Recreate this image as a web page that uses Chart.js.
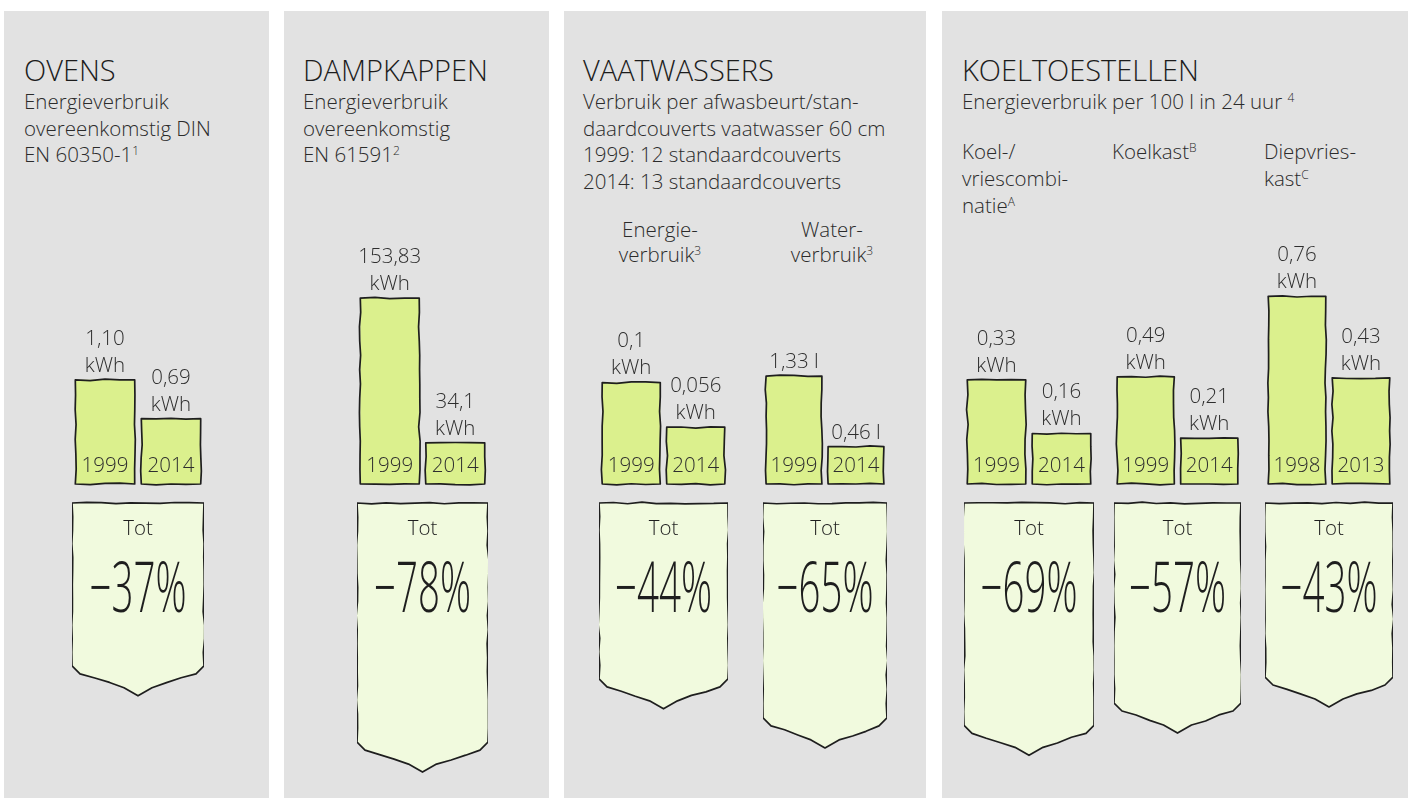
<!DOCTYPE html>
<html lang="nl">
<head>
<meta charset="UTF-8">
<title>Energieverbruik huishoudtoestellen</title>
<script src="https://cdn.jsdelivr.net/npm/chart.js"></script>
<style>
  body { margin: 0; background: #fff; font-family: 'Open Sans', sans-serif; font-weight: 300; color: #2b2b2b; }
  #page { position: relative; width: 1408px; height: 798px; overflow: hidden; }
  .panel { position: absolute; top: 11px; bottom: 0; background: #e2e2e2; }
  .title { position: absolute; top: 55px; font-size: 29px; line-height: 30px; color: #1c1c1c; white-space: nowrap; }
  .sub { position: absolute; top: 88px; font-size: 20.5px; line-height: 26.7px; white-space: nowrap; }
  .head { position: absolute; font-size: 20.5px; white-space: nowrap; }
  sup { font-size: 12px; line-height: 0; vertical-align: 0; position: relative; top: -7px; }
  canvas { position: absolute; }
</style>
</head>
<body>
<div id="page">
  <div class="panel" style="left:4px; width:265px"></div>
  <div class="panel" style="left:284px; width:265px"></div>
  <div class="panel" style="left:564px; width:362px"></div>
  <div class="panel" style="left:942px; width:466px"></div>

  <div class="title" style="left:24px">OVENS</div>
  <div class="sub" style="left:24px">Energieverbruik<br>overeenkomstig DIN<br>EN 60350-1<sup>1</sup></div>

  <div class="title" style="left:303px">DAMPKAPPEN</div>
  <div class="sub" style="left:303px">Energieverbruik<br>overeenkomstig<br>EN 61591<sup>2</sup></div>

  <div class="title" style="left:583px">VAATWASSERS</div>
  <div class="sub" style="left:583px">Verbruik per afwasbeurt/stan-<br>daardcouverts vaatwasser 60 cm<br>1999: 12 standaardcouverts<br>2014: 13 standaardcouverts</div>
  <div class="head" style="left:600px; width:120px; top:217px; line-height:25px; text-align:center">Energie-<br>verbruik<sup>3</sup></div>
  <div class="head" style="left:772px; width:120px; top:217px; line-height:25px; text-align:center">Water-<br>verbruik<sup>3</sup></div>

  <div class="title" style="left:962px">KOELTOESTELLEN</div>
  <div class="sub" style="left:962px">Energieverbruik per 100 l in 24 uur <sup>4</sup></div>
  <div class="head" style="left:962px; top:138px; line-height:27px">Koel-/<br>vriescombi-<br>natie<sup>A</sup></div>
  <div class="head" style="left:1112px; top:138px; line-height:27px">Koelkast<sup>B</sup></div>
  <div class="head" style="left:1264px; top:138px; line-height:27px">Diepvries-<br>kast<sup>C</sup></div>
</div>

<script>
// values per pair of bars
const pairs = ['Ovens', 'Dampkappen', 'Vaatwasser energie', 'Vaatwasser water', 'Koel-/vriescombinatie', 'Koelkast', 'Diepvrieskast'];
const yearsBefore = ['1999', '1999', '1999', '1999', '1999', '1999', '1998'];
const yearsAfter = ['2014', '2014', '2014', '2014', '2014', '2014', '2013'];
const valuesBefore = [1.10, 153.83, 0.1, 1.33, 0.33, 0.49, 0.76];
const valuesAfter = [0.69, 34.1, 0.056, 0.46, 0.16, 0.21, 0.43];
const decimalsBefore = [2, 2, 1, 2, 2, 2, 2];
const decimalsAfter = [2, 1, 3, 2, 2, 2, 2];
const units = ['kWh', 'kWh', 'kWh', 'l', 'kWh', 'kWh', 'kWh'];
const totalChange = [-37, -78, -44, -65, -69, -57, -43];

// layout of the small charts
const pairLeft = [72, 357, 599, 763, 964, 1114, 1265];
const pairWidth = [132, 131, 129, 124, 130, 127, 128];
const axisMax = [3, 235, 0.28, 3.5, 0.9, 1.3, 1.15];
const canvasTop = 200, canvasHeight = 598;
const barZero = 284;      // px from canvas top to the bar baseline
const arrowHeader = 124;  // label block of the arrow, above its zero line
const arrowZero = 303 + arrowHeader;
const arrowPxPerPct = 1.86;

const barFill = '#dbf08d';
const arrowFill = '#f1fade';
const ink = '#1e1e1e';
const labelFont = '300 20.5px "Open Sans"';

function fmt(v, d) { return v.toFixed(d).replace('.', ','); }

// deterministic wobble for the hand drawn outlines
function wob(seed) {
  const s = Math.sin(seed * 12.9898) * 43758.5453;
  return s - Math.floor(s) - 0.5;
}

function sketchPath(ctx, pts, seed) {
  ctx.beginPath();
  ctx.moveTo(pts[0][0], pts[0][1]);
  let n = 0;
  for (let i = 0; i < pts.length; i++) {
    const [x0, y0] = pts[i];
    const [x1, y1] = pts[(i + 1) % pts.length];
    const len = Math.hypot(x1 - x0, y1 - y0) || 1;
    const steps = Math.max(1, Math.round(len / 14));
    const nx = -(y1 - y0) / len, ny = (x1 - x0) / len;
    for (let k = 1; k <= steps; k++) {
      const t = k / steps;
      const a = k === steps ? 0 : wob(seed + n++) * 1.8;
      ctx.lineTo(x0 + (x1 - x0) * t + nx * a, y0 + (y1 - y0) * t + ny * a);
    }
  }
  ctx.closePath();
}

const sketchPlugin = {
  id: 'sketch',
  afterDatasetsDraw(chart) {
    const ctx = chart.ctx;
    const i = chart.options.pairIndex;
    ctx.save();
    ctx.lineWidth = 1.7;
    ctx.lineJoin = 'round';
    ctx.strokeStyle = ink;
    ctx.textAlign = 'center';
    ctx.textBaseline = 'middle';

    // bars with value and year labels
    const bars = chart.getDatasetMeta(0).data;
    const vals = [valuesBefore[i], valuesAfter[i]];
    const decs = [decimalsBefore[i], decimalsAfter[i]];
    const yrs = [yearsBefore[i], yearsAfter[i]];
    bars.forEach((el, j) => {
      const { x, y, base, width } = el.getProps(['x', 'y', 'base', 'width'], true);
      const l = x - width / 2, r = x + width / 2;
      sketchPath(ctx, [[l, y], [r, y], [r, base], [l, base]], i * 50 + j * 17 + 1);
      ctx.stroke();

      ctx.fillStyle = '#2e2e2e';
      ctx.font = labelFont;
      ctx.fillText(yrs[j], x, base - 18);

      const txt = fmt(vals[j], decs[j]);
      const lines = units[i] === 'l' ? [txt + ' l'] : [txt, units[i]];
      lines.reverse().forEach((t, k) => ctx.fillText(t, x, y - 14 - k * 27));
    });

    // "Tot" arrow: a label block, then a pointer whose length follows the change
    const arrow = chart.getDatasetMeta(1).data[0];
    const { x, y, base, width } = arrow.getProps(['x', 'y', 'base', 'width'], true);
    const top = base - arrowHeader;
    const l = x - width / 2, r = x + width / 2;
    const ys = y - 30;
    sketchPath(ctx, [[l, top], [r, top], [r, ys], [r - 8, ys + 8], [x + 14, y - 8], [x, y],
      [x - 14, y - 8], [l + 8, ys + 8], [l, ys]], i * 70 + 300);
    ctx.fillStyle = arrowFill;
    ctx.fill();
    ctx.stroke();

    ctx.fillStyle = ink;
    ctx.font = labelFont;
    ctx.fillText('Tot', x, top + 26);

    ctx.save();
    ctx.translate(x, top + 89);
    ctx.scale(0.55, 1);
    ctx.font = '300 70px "Open Sans"';
    ctx.fillText(String(totalChange[i]).replace('-', '\u2212') + '%', 0, 0);
    ctx.restore();

    ctx.restore();
  }
};

const page = document.getElementById('page');

pairs.forEach((name, i) => {
  const canvas = document.createElement('canvas');
  canvas.width = pairWidth[i];
  canvas.height = canvasHeight;
  canvas.style.left = pairLeft[i] + 'px';
  canvas.style.top = canvasTop + 'px';
  canvas.setAttribute('aria-label', name);
  page.appendChild(canvas);

  const below = canvasHeight - barZero;
  const aBelow = canvasHeight - arrowZero;

  new Chart(canvas.getContext('2d'), {
    type: 'bar',
    data: {
      labels: [yearsBefore[i], yearsAfter[i]],
      datasets: [{
        label: name,
        data: [valuesBefore[i], valuesAfter[i]],
        backgroundColor: barFill,
        borderWidth: 0,
        grouped: false,
        barPercentage: 0.9,
        categoryPercentage: 1,
        xAxisID: 'x',
        yAxisID: 'y'
      }, {
        label: 'Tot',
        data: [totalChange[i]],
        backgroundColor: 'rgba(0,0,0,0)',
        borderWidth: 0,
        grouped: false,
        barPercentage: 1,
        categoryPercentage: 1,
        xAxisID: 'x2',
        yAxisID: 'yp'
      }]
    },
    options: {
      pairIndex: i,
      responsive: false,
      animation: false,
      events: [],
      layout: { padding: 0 },
      plugins: { legend: { display: false }, tooltip: { enabled: false } },
      scales: {
        x: { display: false, offset: true },
        x2: { type: 'category', labels: ['Tot'], display: false, offset: true },
        y: { display: false, min: -axisMax[i] * below / barZero, max: axisMax[i] },
        yp: { display: false, min: -aBelow / arrowPxPerPct, max: arrowZero / arrowPxPerPct }
      }
    },
    plugins: [sketchPlugin]
  });
});
</script>
</body>
</html>
